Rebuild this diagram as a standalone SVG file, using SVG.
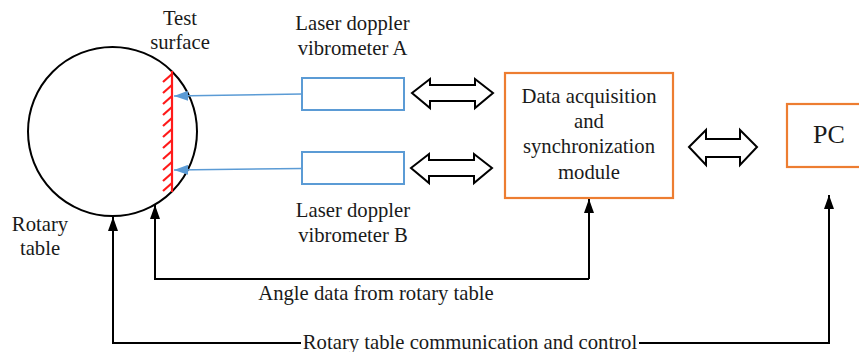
<svg xmlns="http://www.w3.org/2000/svg" width="859" height="352" viewBox="0 0 859 352">
<defs>
<style>
text{font-family:"Liberation Serif","Times New Roman",serif;font-size:20.7px;fill:#1a1a1a;text-anchor:middle}
.blk{fill:none;stroke:#000;stroke-width:2}
.blue{fill:#fff;stroke:#5b9bd5;stroke-width:2}
.org{fill:#fff;stroke:#ed7d31;stroke-width:2.2}
.dbl{fill:#fff;stroke:#000;stroke-width:2;stroke-linejoin:miter}
.bl{stroke:#5b9bd5;stroke-width:1.5;fill:none}
</style>
<marker id="ah" viewBox="0 0 14 10" refX="14" refY="5" markerWidth="14" markerHeight="10" markerUnits="userSpaceOnUse" orient="auto">
<path d="M0,0 L14,5 L0,10 Z" fill="#000"/>
</marker>
<marker id="bh" viewBox="0 0 14 10" refX="14" refY="5" markerWidth="14" markerHeight="10" markerUnits="userSpaceOnUse" orient="auto">
<path d="M0,0 L14,5 L0,10 Z" fill="#5b9bd5"/>
</marker>
</defs>
<rect width="859" height="352" fill="#fff"/>
<g id="rotary-table">
<circle cx="112.5" cy="131.5" r="84.5" class="blk"/>
<text x="40" y="231">Rotary</text>
<text x="40" y="255">table</text>
</g>
<g id="test-surface">
<g stroke="#ff1a1a" stroke-width="2.2" fill="none">
<line x1="172" y1="71" x2="172" y2="192"/>
<path d="M172,74 l-9,8 M172,85 l-9,8 M172,96 l-9,8 M172,107 l-9,8 M172,118 l-9,8 M172,129 l-9,8 M172,140 l-9,8 M172,151 l-9,8 M172,162 l-9,8 M172,173 l-9,8 M172,183 l-9,8"/>
</g>
<text x="180" y="25">Test</text>
<text x="180" y="49">surface</text>
</g>
<g id="ldv-a">
<rect x="302" y="78" width="102" height="32" class="blue"/>
<text x="352.5" y="30">Laser doppler</text>
<text x="352.5" y="55">vibrometer A</text>
</g>
<g id="ldv-b">
<rect x="302" y="152" width="102" height="32" class="blue"/>
<text x="353" y="217">Laser doppler</text>
<text x="353" y="242">vibrometer B</text>
</g>
<g id="daq">
<rect x="505" y="73" width="168" height="125" class="org"/>
<text x="589" y="103">Data acquisition</text>
<text x="589" y="128">and</text>
<text x="589" y="153">synchronization</text>
<text x="589" y="179">module</text>
</g>
<g id="pc">
<rect x="787" y="104" width="90" height="63" class="org"/>
<text x="829" y="143" style="font-size:26px">PC</text>
</g>
<g id="connectors">
<line x1="302" y1="94" x2="174" y2="96" class="bl" marker-end="url(#bh)"/>
<line x1="302" y1="168.5" x2="174" y2="170" class="bl" marker-end="url(#bh)"/>
<path class="dbl" d="M412,93 L430,79 L430,85 L475,85 L475,79 L493,93 L475,108 L475,101 L430,101 L430,108 Z"/>
<path class="dbl" d="M411,168 L429,154 L429,160 L474,160 L474,154 L492,168 L474,183 L474,176 L429,176 L429,183 Z"/>
<path class="dbl" d="M689,147 L706,130 L706,139 L740,139 L740,130 L757,147 L740,165 L740,157 L706,157 L706,165 Z"/>
<polyline class="blk" points="589,279 155,279 155,205" marker-end="url(#ah)"/>
<line class="blk" x1="589" y1="279" x2="589" y2="199" marker-end="url(#ah)"/>
<polyline class="blk" points="301,343 113,343 113,217" marker-end="url(#ah)"/>
<polyline class="blk" points="639,343 829,343 829,195" marker-end="url(#ah)"/>
<text x="376" y="300">Angle data from rotary table</text>
<text x="470" y="349">Rotary table communication and control</text>
</g>
</svg>
